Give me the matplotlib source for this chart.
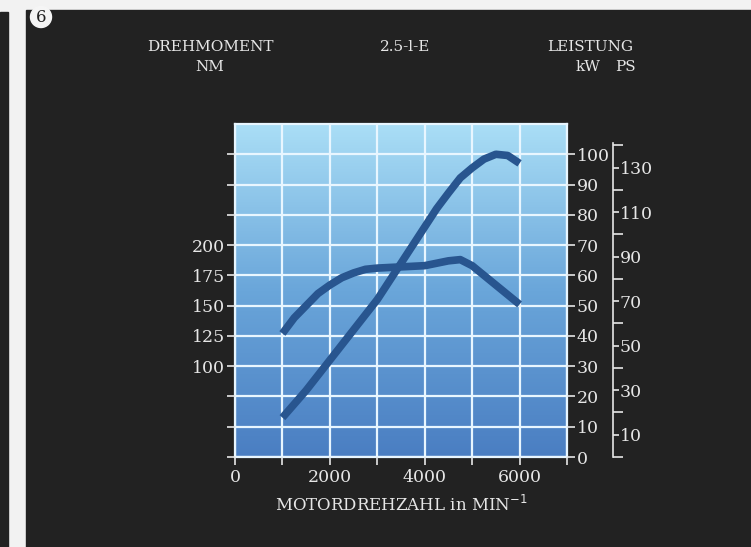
import matplotlib
matplotlib.use('Agg')
import matplotlib.pyplot as plt
import matplotlib.patches as mpatches
from matplotlib.colors import LinearSegmentedColormap
import numpy as np

# data
rpm_torque = [1000, 1250, 1500, 1750, 2000, 2250, 2500, 2750, 3000, 3500,
              4000, 4250, 4500, 4750, 5000, 5250, 5500, 5750, 6000]
torque_nm = [127, 140, 150, 160, 167, 173, 177, 180, 181, 182,
             183, 185, 187, 188, 183, 175, 167, 159, 151]

rpm_power = [1000, 1500, 2000, 2500, 3000, 3500, 3750, 4000, 4250, 4500,
             4750, 5000, 5250, 5500, 5750, 6000]
power_kw = [13, 22, 32, 42, 52, 64, 70, 76, 82, 87.2,
            92.2, 95.5, 98.4, 100, 99.6, 97]

rpm_ticks = [0, 1000, 2000, 3000, 4000, 5000, 6000, 7000]
rpm_labels = ['0', '', '2000', '', '4000', '', '6000', '']
kw_ticks = [0, 10, 20, 30, 40, 50, 60, 70, 80, 90, 100]
nm_ticks = [25, 50, 75, 100, 125, 150, 175, 200, 225, 250, 275]
nm_labels = ['', '', '', '100', '125', '150', '175', '200', '', '', '']
ps_major = [10, 30, 50, 70, 90, 110, 130]
ps_minor = [0, 20, 40, 60, 80, 100, 120, 140]

TXT = '#e6e6e6'
BG = '#222222'
CURVE = '#28558f'
GRID = '#e8f6ff'
KW2PS = 1.3596

plt.rcParams['font.family'] = ['DejaVu Serif']

fig = plt.figure(figsize=(7.51, 5.47), dpi=100, facecolor='#f2f2f2')
fig.patches.append(mpatches.Rectangle((0, 0), 8 / 751, 535 / 547,
                                      transform=fig.transFigure, color=BG, zorder=-10))
fig.patches.append(mpatches.Rectangle((26 / 751, 0), 1, 537 / 547,
                                      transform=fig.transFigure, color=BG, zorder=-10))
fig.patches.append(mpatches.Ellipse((41 / 751, 1 - 17 / 547), 21 / 751, 21 / 547,
                                    transform=fig.transFigure, color='#f5f5f5', zorder=-9))
fig.text(41 / 751, 1 - 17 / 547, '6', ha='center', va='center', fontsize=12,
         color='#222222')

ax = fig.add_axes([235 / 751, 90 / 547, 332 / 751, 333 / 547])
ax.set_facecolor('none')
axt = ax.twinx()
axp = ax.twinx()

# gradient background
cmap = LinearSegmentedColormap.from_list('bg', ['#4a7ec2', '#6aa6da', '#aadef6'])
grad = np.linspace(0, 1, 256).reshape(-1, 1)
ax.imshow(grad, cmap=cmap, aspect='auto', origin='lower', extent=[0, 1, 0, 1],
          transform=ax.transAxes, zorder=0)

# power (kW) on the right scale
ax.set_xlim(0, 7000)
ax.set_ylim(0, 110)
ax.set_xticks(rpm_ticks)
ax.set_xticklabels(rpm_labels)
ax.yaxis.tick_right()
ax.set_yticks(kw_ticks)
ax.grid(True, color=GRID, linewidth=1.6, zorder=1)
ax.set_axisbelow(False)
for s in ax.spines.values():
    s.set_color(GRID)
    s.set_linewidth(1.6)
ax.tick_params(axis='x', colors=TXT, labelsize=12.5, length=6, width=1.2, pad=3)
ax.tick_params(axis='y', colors=TXT, labelsize=12.5, length=6, width=1.2, pad=1)
ax.set_xlabel('MOTORDREHZAHL in MIN$^{-1}$', color=TXT, fontsize=12, labelpad=6)
ax.plot(rpm_power, power_kw, color=CURVE, linewidth=5.5, solid_capstyle='butt',
        solid_joinstyle='round', zorder=3)

# torque on left scale
axt.set_ylim(25, 300)
axt.yaxis.tick_left()
axt.set_yticks(nm_ticks)
axt.set_yticklabels(nm_labels)
axt.tick_params(axis='y', colors=TXT, labelsize=12.5, length=6, width=1.2, pad=1)
for s in axt.spines.values():
    s.set_visible(False)
axt.plot(rpm_torque, torque_nm, color=CURVE, linewidth=5.5, solid_capstyle='butt',
         solid_joinstyle='round', zorder=3)

# PS scale
axp.set_ylim(0, 110 * KW2PS)
axp.yaxis.tick_right()
axp.spines['right'].set_position(('outward', 33))
axp.spines['right'].set_bounds(0, 141)
axp.spines['right'].set_color(TXT)
axp.spines['right'].set_linewidth(1.2)
for k in ['left', 'top', 'bottom']:
    axp.spines[k].set_visible(False)
axp.set_yticks(ps_major)
axp.set_yticks(ps_minor, minor=True)
axp.tick_params(axis='y', which='major', colors=TXT, labelsize=12.5, length=4, width=1.2, pad=1)
axp.tick_params(axis='y', which='minor', colors=TXT, length=7, width=1.2)

fig.text(210 / 751, 1 - 47 / 547, 'DREHMOMENT', ha='center', va='center', color=TXT, fontsize=11)
fig.text(210 / 751, 1 - 67 / 547, 'NM', ha='center', va='center', color=TXT, fontsize=11)
fig.text(405 / 751, 1 - 47 / 547, '2.5-l-E', ha='center', va='center', color=TXT, fontsize=11)
fig.text(590 / 751, 1 - 47 / 547, 'LEISTUNG', ha='center', va='center', color=TXT, fontsize=11)
fig.text(588 / 751, 1 - 67 / 547, 'kW', ha='center', va='center', color=TXT, fontsize=11)
fig.text(625 / 751, 1 - 67 / 547, 'PS', ha='center', va='center', color=TXT, fontsize=11)

fig.savefig('out.png', dpi=100, facecolor=fig.get_facecolor())
